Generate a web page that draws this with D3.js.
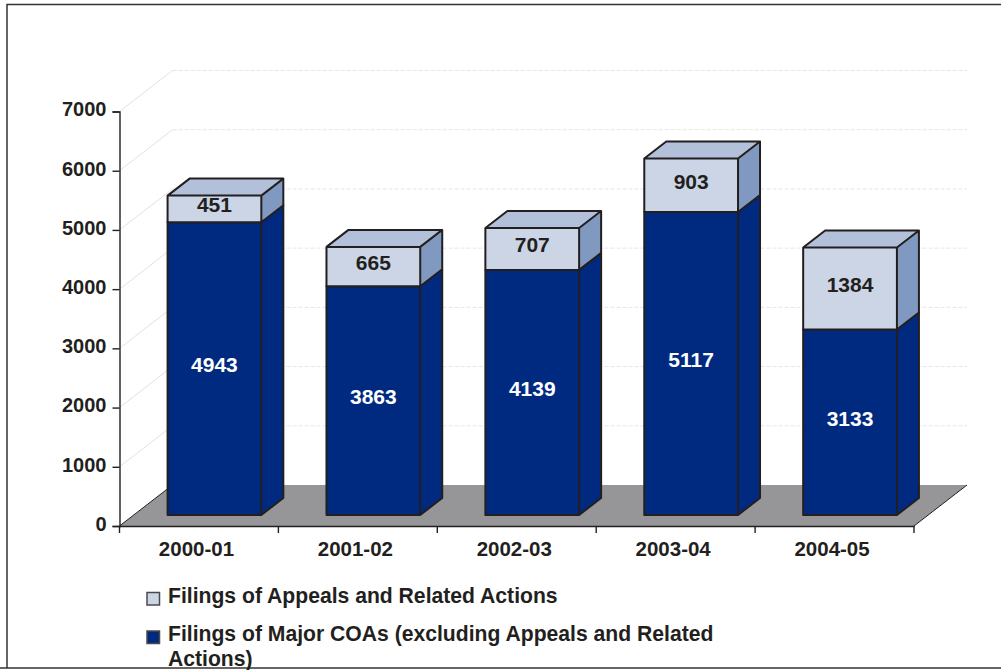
<!DOCTYPE html>
<html>
<head>
<meta charset="utf-8">
<script src="https://cdn.jsdelivr.net/npm/d3@7/dist/d3.min.js"></script>
<style>
  html, body { margin: 0; padding: 0; background: #fff; }
  svg { display: block; }
  text { font-family: "Liberation Sans", Arial, sans-serif; font-weight: bold; font-size: 21px; fill: #231f20; }
  .legend-text { font-size: 21.15px; }
</style>
</head>
<body>
<div id="chart"></div>
<script>
var years = ["2000-01", "2001-02", "2002-03", "2003-04", "2004-05"];
var majorFilings = [4943, 3863, 4139, 5117, 3133];
var appealFilings = [451, 665, 707, 903, 1384];
var yTicks = [0, 1000, 2000, 3000, 4000, 5000, 6000, 7000];
var legendLabels = [
    ["Filings of Appeals and Related Actions"],
    ["Filings of Major COAs (excluding Appeals and Related", "Actions)"]
];

var width = 1001, height = 670;
var axisLine = "#231f20";

// 3d offsets: wall depth and bar depth
var depthX = 53, depthY = -41;
var barDepthX = 22, barDepthY = -17;
// bars stand a bit in from the front edge of the floor
var barShiftX = 15.5, barShiftY = -11;

var svg = d3.select("#chart").append("svg")
    .attr("width", width)
    .attr("height", height);

// frame, open on the right
svg.append("path")
    .attr("d", "M7,668V4.5H1001")
    .attr("fill", "none")
    .attr("stroke", "#333")
    .attr("stroke-width", 1.5);
svg.append("line")
    .attr("x1", 0).attr("x2", 1001)
    .attr("y1", 668).attr("y2", 668)
    .attr("stroke", "#333")
    .attr("stroke-width", 1.5);

var x = d3.scaleBand()
    .domain(years)
    .range([119.5, 914])
    .paddingInner(0.41)
    .paddingOuter(0.205);

var y = d3.scaleLinear()
    .domain([0, 7000])
    .range([526, 111.5]);

// walls gridlines
yTicks.slice(1).forEach(function (t) {
    svg.append("path")
        .attr("d", "M119.5," + y(t) + "l" + depthX + "," + depthY)
        .attr("stroke", "#e2e2e2")
        .attr("fill", "none");
    svg.append("line")
        .attr("x1", 119.5 + depthX)
        .attr("x2", 914 + depthX)
        .attr("y1", y(t) + depthY)
        .attr("y2", y(t) + depthY)
        .attr("stroke", "#e6e6e6")
        .attr("stroke-dasharray", "4,2");
});

// floor
svg.append("path")
    .attr("d", "M119.5," + y(0) + "H914l" + depthX + "," + depthY + "H" + (119.5 + depthX) + "Z")
    .attr("fill", "#969698");
svg.append("path")
    .attr("d", "M119.5," + y(0) + "l" + depthX + "," + depthY + "M914," + y(0) + "l" + depthX + "," + depthY)
    .attr("stroke", axisLine)
    .attr("fill", "none");

// axes
var yAxis = d3.axisLeft(y).tickValues(yTicks).tickFormat(d3.format("d")).tickSize(7).tickPadding(6);
var yG = svg.append("g").attr("transform", "translate(119.5,0)").call(yAxis);
yG.selectAll("path,line").attr("stroke", axisLine).attr("stroke-width", 1.4);
yG.selectAll("text").style("font-size", "20px").style("font-family", "Liberation Sans").attr("fill", "#231f20")
    .attr("y", -2);

var xAxis = d3.axisBottom(x).tickSize(0).tickPadding(15);
var xG = svg.append("g").attr("transform", "translate(0," + y(0) + ")").call(xAxis);
xG.select("path").attr("stroke", axisLine).attr("stroke-width", 1.4);
xG.selectAll("text").style("font-size", "20.5px").style("font-family", "Liberation Sans").attr("fill", "#231f20")
    .attr("dx", -2.5);
var step = x.step();
d3.range(0, years.length + 1).forEach(function (i) {
    var tx = 119.5 + i * step;
    svg.append("line")
        .attr("x1", tx).attr("x2", tx)
        .attr("y1", y(0)).attr("y2", y(0) + 7)
        .attr("stroke", axisLine)
        .attr("stroke-width", 1.4);
});

// one stacked segment with its front, side and top face
function segment(g, left, right, top, bottom, front, side, roof) {
    g.append("path")
        .attr("d", "M" + right + "," + bottom + "l" + barDepthX + "," + barDepthY + "V" + (top + barDepthY) + "L" + right + "," + top + "Z")
        .attr("fill", side);
    if (roof) {
        g.append("path")
            .attr("d", "M" + left + "," + top + "l" + barDepthX + "," + barDepthY + "H" + (right + barDepthX) + "L" + right + "," + top + "Z")
            .attr("fill", roof);
    }
    g.append("rect")
        .attr("x", left).attr("y", top)
        .attr("width", right - left).attr("height", bottom - top)
        .attr("fill", front);
    // outlines on top so the joins stay dark
    g.append("path")
        .attr("d", "M" + left + "," + top + "H" + right + "V" + bottom + "H" + left + "Z"
            + "M" + right + "," + bottom + "l" + barDepthX + "," + barDepthY + "V" + (top + barDepthY) + "L" + right + "," + top
            + (roof ? "M" + left + "," + top + "l" + barDepthX + "," + barDepthY + "H" + (right + barDepthX) : ""))
        .attr("fill", "none")
        .attr("stroke", "#231f20")
        .attr("stroke-width", 2)
        .attr("stroke-linejoin", "round");
}

years.forEach(function (yr, i) {
    var g = svg.append("g");
    var left = x(yr) + barShiftX, right = left + x.bandwidth();
    var base = y(0) + barShiftY;
    var mid = y(majorFilings[i]) + barShiftY;
    var top = y(majorFilings[i] + appealFilings[i]) + barShiftY;
    segment(g, left, right, mid, base, "#002a80", "#002a80", null);
    segment(g, left, right, top, mid, "#ccd5e6", "#7f99c0", "#b2c0da");

    g.append("text")
        .attr("x", (left + right) / 2).attr("y", (mid + base) / 2 + 3.5)
        .attr("text-anchor", "middle")
        .style("fill", "#fff")
        .text(majorFilings[i]);
    g.append("text")
        .attr("x", (left + right) / 2).attr("y", (top + mid) / 2 + 3.5)
        .attr("text-anchor", "middle")
        .text(appealFilings[i]);
});

// legend
var legendColors = ["#ccd5e6", "#002a80"];
var legendY = [602.5, 641];
legendLabels.forEach(function (lines, i) {
    svg.append("rect")
        .attr("x", 147).attr("y", legendY[i] - 10)
        .attr("width", 12.5).attr("height", 12.5)
        .attr("fill", legendColors[i])
        .attr("stroke", "#4a4a4a")
        .attr("stroke-width", 1.5);
    lines.forEach(function (line, j) {
        svg.append("text")
            .attr("class", "legend-text")
            .attr("x", 168)
            .attr("y", legendY[i] + j * 25)
            .text(line);
    });
});
</script>
</body>
</html>
